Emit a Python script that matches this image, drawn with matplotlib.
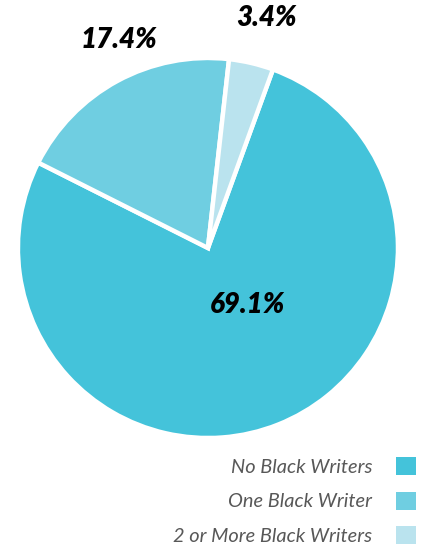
import matplotlib
matplotlib.use('Agg')
import matplotlib.pyplot as plt
from matplotlib.patches import Patch

categories = ['No Black Writers', 'One Black Writer', '2 or More Black Writers']
shares = [69.1, 17.4, 3.4]
pct_labels = ['69.1%', '17.4%', '3.4%']
colors = ['#44C3DA', '#6FCEE1', '#BAE3EE']

fig = plt.figure(figsize=(4.27, 5.5), dpi=100)
ax = fig.add_axes([0.042, 0.2036, 0.89, 0.691])

wedges, _ = ax.pie(
    shares, colors=colors, startangle=70, counterclock=False,
    wedgeprops=dict(edgecolor='white', linewidth=3.2))
ax.set_xlim(-1, 1)
ax.set_ylim(-1, 1)
ax.set_aspect('equal')

# label spots, in radius units relative to the pie centre
label_pos = [(0.21, -0.30), (-0.47, 1.095), (0.31, 1.21)]
for (x, y), txt in zip(label_pos, pct_labels):
    ax.text(x, y, txt, ha='center', va='center', fontsize=20,
            fontweight='heavy', style='italic', family='Lato',
            color='black', clip_on=False)

handles = [Patch(facecolor=c, edgecolor='none') for c in colors]
fig.legend(
    handles, categories, loc='lower right',
    bbox_to_anchor=(1.017, -0.024), frameon=False, markerfirst=False,
    handlelength=1.0, handleheight=1.0, handletextpad=1.2,
    labelspacing=0.8,
    prop=dict(family='Lato', style='italic', weight='normal', size=14.4),
    labelcolor='#585858')

fig.savefig('out.png', dpi=100)
